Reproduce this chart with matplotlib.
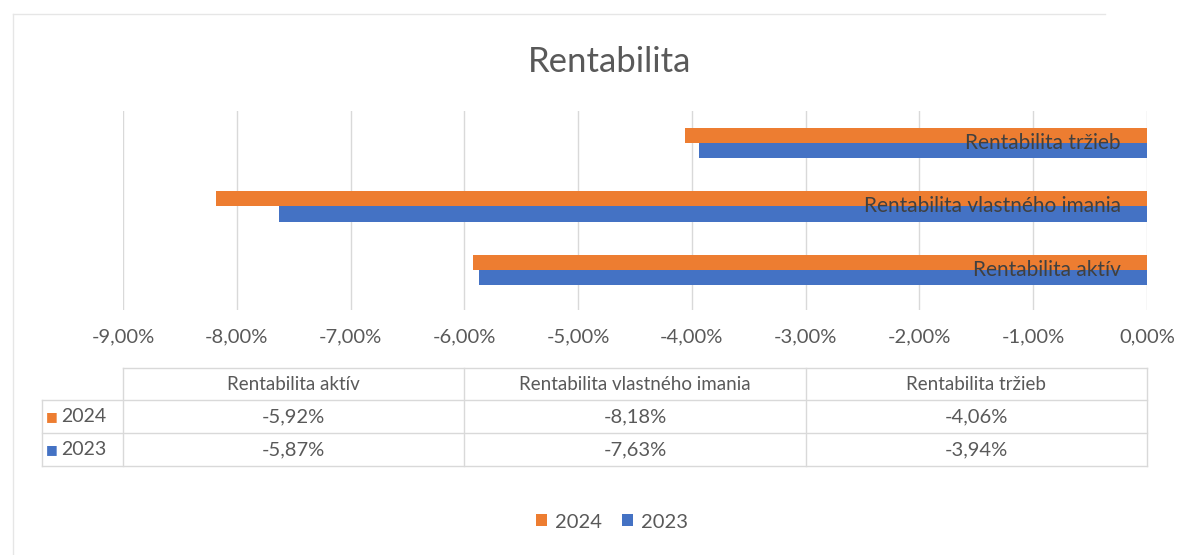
import matplotlib
matplotlib.use("Agg")
import matplotlib.pyplot as plt
import matplotlib.transforms as mtransforms
import numpy as np

# data
categories = ["Rentabilita aktív", "Rentabilita vlastného imania", "Rentabilita tržieb"]
series_names = ["2024", "2023"]
values_2024 = [-5.92, -8.18, -4.06]
values_2023 = [-5.87, -7.63, -3.94]
xticks = [-9, -8, -7, -6, -5, -4, -3, -2, -1, 0]

col_2024 = "#ED7D31"
col_2023 = "#4472C4"
txt_col = "#595959"
grid_col = "#D9D9D9"

plt.rcParams["font.family"] = ["Lato", "DejaVu Sans"]

W, H = 1197, 555
fig = plt.figure(figsize=(W / 100, H / 100), dpi=100)

def fx(px):
    return px / W

def fy(py):
    return 1 - py / H

# plot area
ax = fig.add_axes([fx(123), fy(310), fx(1147) - fx(123), fy(111) - fy(310)])
y = np.arange(len(categories))
bh = 0.24
ax.barh(y + bh / 2, values_2024, height=bh, color=col_2024, label=series_names[0], zorder=3)
ax.barh(y - bh / 2, values_2023, height=bh, color=col_2023, label=series_names[1], zorder=3)
ax.set_xlim(-9, 0)
ax.set_ylim(-0.63, 2.5)
ax.set_xticks(xticks)
ax.set_xticklabels(["{:.2f}%".format(v).replace(".", ",") for v in xticks])
ax.tick_params(axis="x", length=0, pad=13, labelsize=14.5, labelcolor=txt_col)
ax.set_yticks([])
ax.grid(axis="x", color=grid_col, linewidth=1, zorder=0)
for s in ax.spines.values():
    s.set_visible(False)

# category labels sit over the bars next to the zero line
for i, c in enumerate(categories):
    ax.annotate(c, xy=(0, y[i]), xytext=(-19, 0), textcoords="offset points",
                ha="right", va="center", fontsize=15, color="#404040", zorder=4)

fig.text(fx(610), fy(62), "Rentabilita", ha="center", va="center", fontsize=25, color=txt_col)

# data table under the chart
tr = mtransforms.blended_transform_factory(ax.transAxes, fig.transFigure)
row_y = [368, 400, 433, 466]
left_px = 42
left_ax = (left_px - 123) / (1147 - 123)
ncol = len(categories)
line_kw = dict(color=grid_col, linewidth=1, transform=tr, clip_on=False)
# horizontal lines
ax.plot([0, 1], [fy(row_y[0])] * 2, **line_kw)
for ry in row_y[1:]:
    ax.plot([left_ax, 1], [fy(ry)] * 2, **line_kw)
# vertical lines
for k in range(ncol + 1):
    ax.plot([k / ncol] * 2, [fy(row_y[0]), fy(row_y[-1])], **line_kw)
ax.plot([left_ax] * 2, [fy(row_y[1]), fy(row_y[-1])], **line_kw)

for k, c in enumerate(categories):
    ax.text((k + 0.5) / ncol, fy((row_y[0] + row_y[1]) / 2), c, transform=tr,
            ha="center", va="center", fontsize=13.5, color=txt_col)
for r, (name, vals, col) in enumerate(zip(series_names, [values_2024, values_2023], [col_2024, col_2023])):
    yc = fy((row_y[r + 1] + row_y[r + 2]) / 2)
    ax.text(left_ax + 0.004, yc, "\u25A0", transform=tr, ha="left", va="center",
            fontsize=9, color=col, family="DejaVu Sans")
    ax.text(left_ax + 0.019, yc, name, transform=tr, ha="left", va="center",
            fontsize=14, color=txt_col)
    for k, v in enumerate(vals):
        ax.text((k + 0.5) / ncol, yc, "{:.2f}%".format(v).replace(".", ","), transform=tr,
                ha="center", va="center", fontsize=14.5, color=txt_col)

# legend
fig.legend(loc="center", bbox_to_anchor=(fx(612), fy(522)), ncol=2, frameon=False,
           fontsize=14.5, labelcolor=txt_col, handlelength=0.55, handleheight=0.55,
           handletextpad=0.4, columnspacing=1.0)

# faint chart border
fig.add_artist(plt.Line2D([fx(13), fx(13)], [fy(14), fy(555)], color="#E6E6E6", linewidth=1))
fig.add_artist(plt.Line2D([fx(13), fx(1105)], [fy(14), fy(14)], color="#E6E6E6", linewidth=1))

fig.savefig("out.png", dpi=100, facecolor="white")
